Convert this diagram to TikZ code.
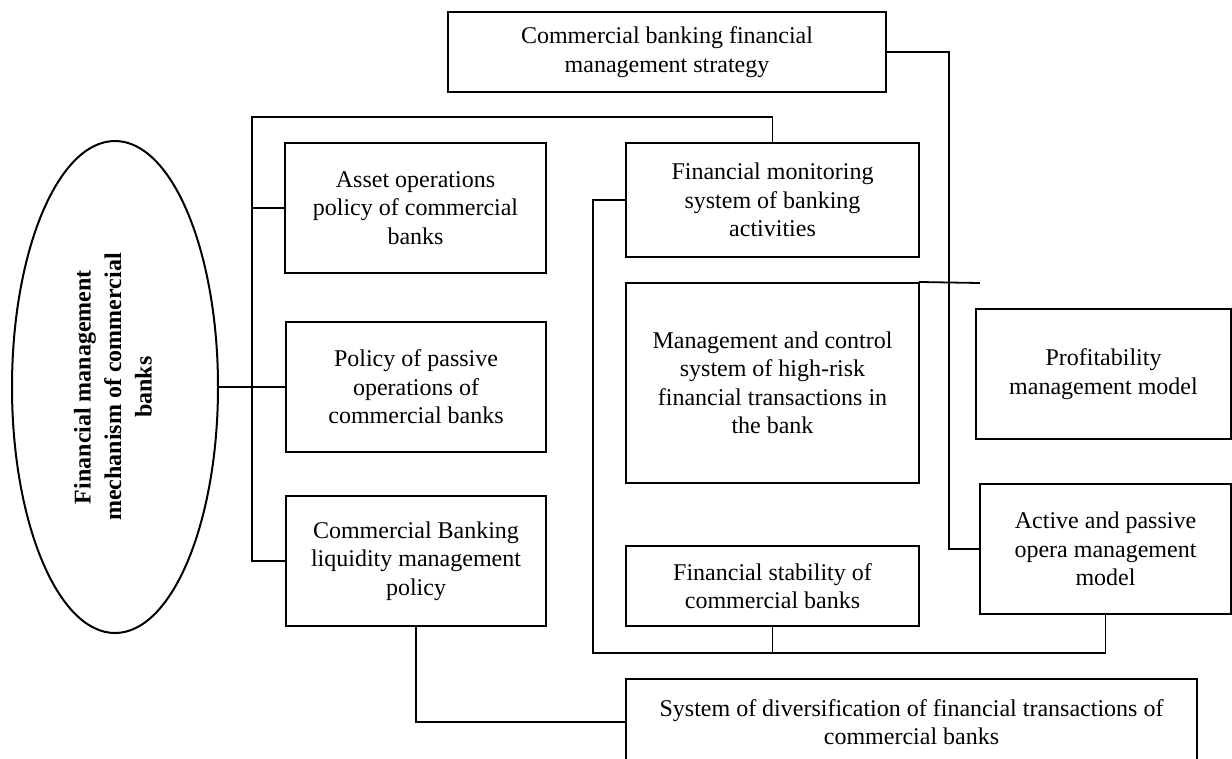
\documentclass[tikz,border=0pt]{standalone}
\usepackage{fontspec}
\setmainfont{Liberation Serif}
\usetikzlibrary{shapes.geometric}
\begin{document}
\begin{tikzpicture}[x=1pt,y=-1pt,
  conn/.style={line width=1.8pt, line cap=rect},
  blk/.style={draw, line width=2pt, inner sep=0pt, align=center,
    font=\fontsize{24}{28.5}\selectfont},
  hub/.style={draw, ellipse, line width=2pt, inner sep=0pt,
    minimum width=206, minimum height=492}]
\useasboundingbox (0,0) rectangle (1232,758);

% central ellipse
\node[hub] (ell) at (115,387) {};
\node[rotate=90, align=center, font=\fontsize{24}{30.5}\selectfont\bfseries] (elltxt) at (113,387)
  {Financial management\\mechanism of commercial\\banks};

% policy blocks
\node[blk, minimum width=438, minimum height=80] (strat) at (667,52)
  {Commercial banking financial\\management strategy};
\node[blk, minimum width=261, minimum height=130] (asset) at (415.5,208)
  {Asset operations\\policy of commercial\\banks};
\node[blk, minimum width=260, minimum height=130] (pass) at (416,387)
  {Policy of passive\\operations of\\commercial banks};
\node[blk, minimum width=260, minimum height=130] (liq) at (416,561)
  {Commercial Banking\\liquidity management\\policy};
\node[blk, minimum width=293, minimum height=114] (mon) at (772.5,200)
  {Financial monitoring\\system of banking\\activities};
\node[blk, minimum width=293, minimum height=200] (man) at (772.5,383)
  {Management and control\\system of high-risk\\financial transactions in\\the bank};
\node[blk, minimum width=293, minimum height=80] (stab) at (772.5,586)
  {Financial stability of\\commercial banks};
\node[blk, minimum width=255, minimum height=130] (prof) at (1103.5,374)
  {Profitability\\management model};
\node[blk, minimum width=251, minimum height=130] (act) at (1105.5,549)
  {Active and passive\\opera management\\model};
\node[blk, minimum width=571, minimum height=86] (sys) at (911.5,722)
  {System of diversification of financial transactions of\\commercial banks};

% bus corners and free ends
\coordinate (bt) at (252,117);
\coordinate (rv) at (949,0);
\coordinate (bl) at (593,653);
\coordinate (stub) at (979,283);

% left bus
\draw[conn] (ell.east) -- (pass.west);
\draw[conn] (mon.north) |- (bt) |- (liq.west);
\draw[conn] (asset.west) -- (asset.west -| bt);

% strategy link down to the active/passive model
\draw[conn] (strat.east) -| (rv |- act.west) -- (act.west);
\draw[conn] (man.north east) -- (stub);

% lower loop
\draw[conn] (mon.west) -| (bl) -| (act.south);
\draw[conn] (stab.south) -- (stab.south |- bl);

% liquidity to diversification
\draw[conn] (liq.south) |- (sys.west);
\end{tikzpicture}
\end{document}
